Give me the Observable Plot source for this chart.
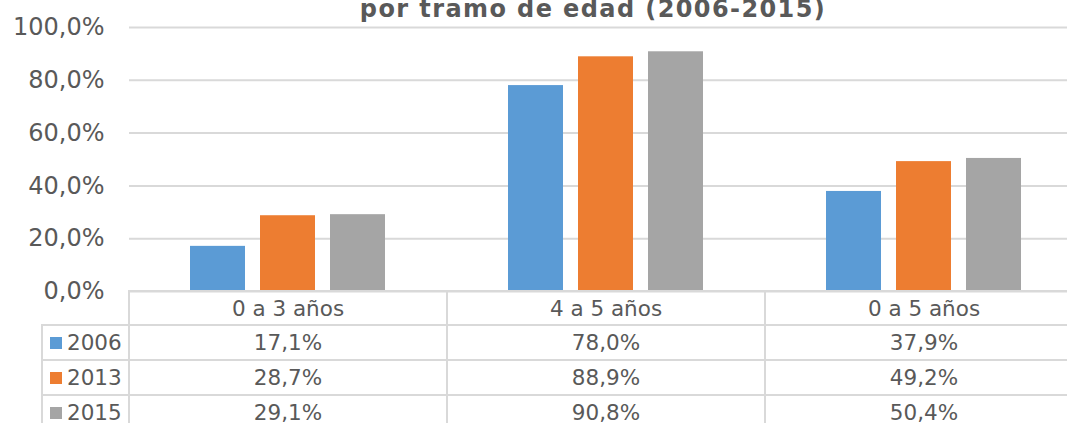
<!DOCTYPE html>
<html><head><meta charset="utf-8">
<script src="https://cdn.jsdelivr.net/npm/d3@7"></script>
<script src="https://cdn.jsdelivr.net/npm/@observablehq/plot@0.6"></script>
<style>
html,body{margin:0;padding:0;background:#fff;overflow:hidden;width:1067px;height:423px;}
#wrap{position:relative;width:1067px;height:423px;font-family:"DejaVu Sans",Verdana,sans-serif;color:#595959;overflow:hidden;}
#chart svg{display:block;}
#title{position:absolute;left:593px;top:-3px;transform:translateX(-50%);font-weight:bold;font-size:24px;line-height:24px;white-space:nowrap;letter-spacing:1.4px;}
.cell{position:absolute;box-sizing:border-box;border:2px solid #D9D9D9;display:flex;align-items:center;justify-content:center;font-size:21.5px;white-space:nowrap;background:transparent;}
.cell.leg{justify-content:flex-start;padding-left:7px;}
.sw{display:inline-block;width:12px;height:12px;margin-right:5px;}
</style></head>
<body><div id="wrap"><div id="chart"></div><div id="title"></div><div id="table"></div></div>
<script>
const titleText = "por tramo de edad (2006-2015)";
const categories = ["0 a 3 años", "4 a 5 años", "0 a 5 años"];
const years = ["2006", "2013", "2015"];
const values2006 = [0.171, 0.780, 0.379];
const values2013 = [0.287, 0.889, 0.492];
const values2015 = [0.291, 0.908, 0.504];
const colors = ["#5B9BD5", "#ED7D31", "#A5A5A5"];
const yTicks = [0, 0.2, 0.4, 0.6, 0.8, 1.0];

const seriesByYear = [values2006, values2013, values2015];
const fmtPct = d => (d * 100).toFixed(1).replace(".", ",") + "%";
const data = categories.flatMap((c, i) => years.map((yr, j) => ({category: c, year: yr, value: seriesByYear[j][i]})));

document.getElementById("title").textContent = titleText;

const chart = Plot.plot({
  width: 1067,
  height: 292,
  marginTop: 27,
  marginBottom: 1,
  marginLeft: 128,
  marginRight: -16,
  style: {fontFamily: "'DejaVu Sans', Verdana, sans-serif", fontSize: "24px", color: "#595959", background: "transparent", overflow: "visible"},
  facet: {data: data, x: "category"},
  fx: {domain: categories, padding: 0, axis: null, label: null},
  x: {domain: years, paddingInner: 0.211, paddingOuter: 0.845, axis: null},
  y: {domain: [0, 1], ticks: yTicks, tickFormat: fmtPct, tickSize: 0, tickPadding: 25, label: null},
  color: {domain: years, range: colors},
  marks: [
    Plot.ruleY(yTicks, {stroke: "#D9D9D9", strokeWidth: 2}),
    Plot.barY(data, {x: "year", y: "value", fill: "year"})
  ]
});
document.getElementById("chart").appendChild(chart);

// Data table below the chart, aligned on the fx scale
const fx = chart.scale("fx");
const bw = fx.bandwidth;
const table = document.getElementById("table");
const tableTop = 291, headerH = 34, rowH = 35, legLeft = 42;
function addCell(x, y, w, h, cls) {
  const d = document.createElement("div");
  d.className = "cell" + (cls ? " " + cls : "");
  d.style.left = (x - 1) + "px";
  d.style.top = (y - 1) + "px";
  d.style.width = (w + 2) + "px";
  d.style.height = (h + 2) + "px";
  table.appendChild(d);
  return d;
}
categories.forEach(c => {
  addCell(fx.apply(c), tableTop, bw, headerH).textContent = c;
});
years.forEach((yr, j) => {
  const top = tableTop + headerH + j * rowH;
  const leg = addCell(legLeft, top, fx.apply(categories[0]) - legLeft, rowH, "leg");
  const sw = document.createElement("span");
  sw.className = "sw";
  sw.style.background = colors[j];
  leg.appendChild(sw);
  leg.appendChild(document.createTextNode(yr));
  categories.forEach((c, i) => {
    addCell(fx.apply(c), top, bw, rowH).textContent = fmtPct(seriesByYear[j][i]);
  });
});
</script>
</body></html>
